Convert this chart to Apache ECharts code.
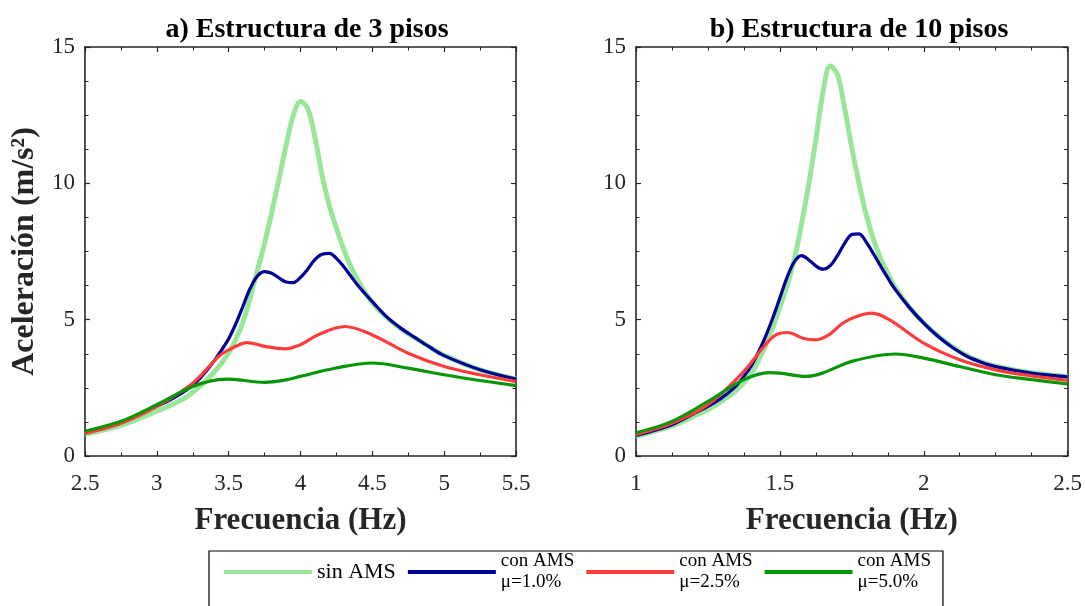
<!DOCTYPE html>
<html><head><meta charset="utf-8">
<script src="https://cdn.jsdelivr.net/npm/echarts@6/dist/echarts.min.js"></script>
<style>html,body{margin:0;padding:0;background:#fff}#c{width:1085px;height:606px}</style>
</head><body><div id="c"></div>
<script>
const FONT = '"Liberation Serif","Times New Roman",serif';

// ---- a) Estructura de 3 pisos ----
const sin3X = [2.5, 2.75, 3.0, 3.1, 3.2, 3.25, 3.3, 3.35, 3.4, 3.45, 3.5, 3.55, 3.6, 3.65, 3.7, 3.75, 3.8, 3.85, 3.9, 3.95, 4.0, 4.05, 4.1, 4.15, 4.2, 4.25, 4.3, 4.35, 4.4, 4.45, 4.5, 4.6, 4.7, 4.8, 4.9, 5.0, 5.25, 5.5];
const sin3Y = [0.80, 1.12, 1.64, 1.87, 2.14, 2.34, 2.55, 2.8, 3.08, 3.4, 3.78, 4.28, 4.92, 5.8, 6.8, 7.8, 8.95, 10.15, 11.4, 12.5, 13.0, 12.75, 11.7, 10.3, 9.2, 8.35, 7.6, 6.95, 6.45, 6.0, 5.62, 5.08, 4.66, 4.32, 3.99, 3.69, 3.16, 2.83];
const ams1_3X = [2.5, 2.75, 3.0, 3.1, 3.2, 3.25, 3.3, 3.35, 3.4, 3.45, 3.5, 3.55, 3.6, 3.65, 3.7, 3.75, 3.8, 3.85, 3.9, 3.95, 4.0, 4.05, 4.1, 4.15, 4.2, 4.25, 4.3, 4.35, 4.4, 4.45, 4.5, 4.6, 4.7, 4.8, 4.9, 5.0, 5.25, 5.5];
const ams1_3Y = [0.85, 1.21, 1.82, 2.08, 2.4, 2.6, 2.85, 3.15, 3.5, 3.88, 4.3, 4.85, 5.5, 6.15, 6.6, 6.76, 6.7, 6.53, 6.38, 6.36, 6.55, 6.85, 7.2, 7.4, 7.43, 7.25, 6.95, 6.6, 6.25, 5.95, 5.66, 5.1, 4.68, 4.33, 3.99, 3.68, 3.16, 2.82];
const ams25_3X = [2.5, 2.75, 3.0, 3.25, 3.43, 3.5, 3.63, 3.75, 3.89, 4.0, 4.12, 4.31, 4.5, 4.75, 5.0, 5.25, 5.5];
const ams25_3Y = [0.83, 1.2, 1.82, 2.67, 3.65, 3.89, 4.16, 4.02, 3.93, 4.08, 4.44, 4.75, 4.44, 3.77, 3.28, 2.98, 2.73];
const ams5_3X = [2.5, 2.75, 3.0, 3.25, 3.43, 3.5, 3.75, 3.89, 4.0, 4.24, 4.5, 4.75, 5.0, 5.25, 5.5];
const ams5_3Y = [0.91, 1.27, 1.88, 2.55, 2.80, 2.82, 2.70, 2.78, 2.92, 3.22, 3.41, 3.22, 2.98, 2.77, 2.58];

// ---- b) Estructura de 10 pisos ----
const sin10X = [1.0, 1.125, 1.2, 1.25, 1.3, 1.35, 1.4, 1.425, 1.45, 1.475, 1.5, 1.525, 1.55, 1.575, 1.6, 1.625, 1.65, 1.675, 1.7, 1.725, 1.75, 1.775, 1.8, 1.825, 1.85, 1.875, 1.9, 1.95, 2.0, 2.05, 2.1, 2.15, 2.2, 2.25, 2.375, 2.5];
const sin10Y = [0.72, 1.10, 1.45, 1.70, 2.02, 2.42, 3.02, 3.5, 4.05, 4.7, 5.45, 6.25, 7.2, 8.5, 9.95, 11.6, 13.35, 14.3, 14.0, 12.75, 11.3, 10.0, 8.85, 7.95, 7.25, 6.7, 6.2, 5.45, 4.88, 4.4, 4.0, 3.68, 3.45, 3.29, 3.05, 2.92];
const ams1_10X = [1.0, 1.125, 1.2, 1.25, 1.3, 1.35, 1.4, 1.425, 1.45, 1.475, 1.5, 1.525, 1.55, 1.575, 1.6, 1.625, 1.65, 1.675, 1.7, 1.725, 1.75, 1.775, 1.8, 1.825, 1.85, 1.875, 1.9, 1.95, 2.0, 2.05, 2.1, 2.15, 2.2, 2.25, 2.375, 2.5];
const ams1_10Y = [0.75, 1.15, 1.55, 1.82, 2.15, 2.6, 3.3, 3.8, 4.38, 5.05, 5.8, 6.55, 7.12, 7.35, 7.2, 6.97, 6.85, 6.98, 7.35, 7.8, 8.12, 8.15, 7.85, 7.42, 6.97, 6.53, 6.12, 5.45, 4.87, 4.38, 3.98, 3.66, 3.44, 3.28, 3.04, 2.90];
const ams25_10X = [1.0, 1.125, 1.25, 1.375, 1.44, 1.486, 1.527, 1.58, 1.625, 1.67, 1.718, 1.764, 1.82, 1.88, 2.0, 2.125, 2.25, 2.375, 2.5];
const ams25_10Y = [0.79, 1.2, 1.88, 3.10, 3.96, 4.44, 4.53, 4.32, 4.26, 4.44, 4.87, 5.11, 5.24, 5.0, 4.14, 3.53, 3.16, 2.94, 2.77];
const ams5_10X = [1.0, 1.125, 1.25, 1.375, 1.463, 1.5, 1.59, 1.648, 1.75, 1.90, 2.0, 2.125, 2.25, 2.375, 2.5];
const ams5_10Y = [0.85, 1.27, 2.00, 2.80, 3.06, 3.04, 2.92, 3.04, 3.47, 3.74, 3.59, 3.28, 2.98, 2.80, 2.64];

const titles = ['a) Estructura de 3 pisos', 'b) Estructura de 10 pisos'];
const names = ['sin AMS', 'con AMS μ=1.0%', 'con AMS μ=2.5%', 'con AMS μ=5.0%'];
const colors = ['#98E698', '#000099', '#FF3B3B', '#079607'];
const widths = [5, 3.2, 3.2, 3.2];
const xName = 'Frecuencia (Hz)';
const yName = 'Aceleración (m/s²)';

const zip = (xs, ys) => xs.map((x, i) => [x, ys[i]]);
const data3 = [zip(sin3X, sin3Y), zip(ams1_3X, ams1_3Y), zip(ams25_3X, ams25_3Y), zip(ams5_3X, ams5_3Y)];
const data10 = [zip(sin10X, sin10Y), zip(ams1_10X, ams1_10Y), zip(ams25_10X, ams25_10Y), zip(ams5_10X, ams5_10Y)];

const AX = '#262626';
function axis(o) {
  return Object.assign({
    type: 'value',
    axisLine: { show: true, onZero: false, lineStyle: { color: AX, width: 1.6 } },
    axisTick: { show: true, inside: true, length: 5, lineStyle: { color: AX, width: 1.2 } },
    minorTick: { show: true, length: 3.5, lineStyle: { color: AX, width: 1 } },
    splitLine: { show: false },
    axisLabel: { show: true, fontFamily: FONT, fontSize: 23, color: AX }
  }, o);
}
function noLabel(o) {
  const a = axis(o);
  a.axisLabel = { show: false };
  return a;
}
const xNameStyle = { fontFamily: FONT, fontSize: 31, fontWeight: 'bold', color: AX };

const xAxes = [
  axis({ gridIndex: 0, position: 'bottom', min: 2.5, max: 5.5, interval: 0.5,
    minorTick: { show: true, splitNumber: 2, length: 3.5, lineStyle: { color: AX, width: 1 } },
    axisLabel: { fontFamily: FONT, fontSize: 23, color: AX, margin: 16 },
    name: xName, nameLocation: 'middle', nameGap: 49, nameTextStyle: xNameStyle }),
  noLabel({ gridIndex: 0, position: 'top', min: 2.5, max: 5.5, interval: 0.5,
    minorTick: { show: true, splitNumber: 2, length: 3.5, lineStyle: { color: AX, width: 1 } } }),
  axis({ gridIndex: 1, position: 'bottom', min: 1, max: 2.5, interval: 0.5,
    minorTick: { show: true, splitNumber: 4, length: 3.5, lineStyle: { color: AX, width: 1 } },
    axisLabel: { fontFamily: FONT, fontSize: 23, color: AX, margin: 16 },
    name: xName, nameLocation: 'middle', nameGap: 49, nameTextStyle: xNameStyle }),
  noLabel({ gridIndex: 1, position: 'top', min: 1, max: 2.5, interval: 0.5,
    minorTick: { show: true, splitNumber: 4, length: 3.5, lineStyle: { color: AX, width: 1 } } })
];
const yMinor = { show: true, splitNumber: 4, length: 3.5, lineStyle: { color: AX, width: 1 } };
const yAxes = [
  axis({ gridIndex: 0, position: 'left', min: 0, max: 15, interval: 5, minorTick: yMinor,
    axisLabel: { fontFamily: FONT, fontSize: 23, color: AX, margin: 10 },
    name: yName, nameLocation: 'middle', nameGap: 44,
    nameTextStyle: { fontFamily: FONT, fontSize: 32, fontWeight: 'bold', color: AX } }),
  noLabel({ gridIndex: 0, position: 'right', min: 0, max: 15, interval: 5, minorTick: yMinor }),
  axis({ gridIndex: 1, position: 'left', min: 0, max: 15, interval: 5, minorTick: yMinor,
    axisLabel: { fontFamily: FONT, fontSize: 23, color: AX, margin: 10 } }),
  noLabel({ gridIndex: 1, position: 'right', min: 0, max: 15, interval: 5, minorTick: yMinor })
];

const series = [];
[data3, data10].forEach((set, g) => {
  set.forEach((d, i) => {
    series.push({
      type: 'line', name: names[i], data: d,
      xAxisIndex: g * 2, yAxisIndex: g * 2,
      smooth: 0.35, showSymbol: false, symbol: 'none',
      lineStyle: { color: colors[i], width: widths[i] },
      itemStyle: { color: colors[i] },
      z: 2 + i, animation: false
    });
  });
});

const chart = echarts.init(document.getElementById('c'), null, { renderer: 'canvas' });
chart.setOption({
  backgroundColor: '#fff',
  animation: false,
  title: [
    { text: titles[0], left: 302, top: 11, textAlign: 'center',
      textStyle: { fontFamily: FONT, fontSize: 28, fontWeight: 'bold', color: '#000' } },
    { text: titles[1], left: 854, top: 11, textAlign: 'center',
      textStyle: { fontFamily: FONT, fontSize: 28, fontWeight: 'bold', color: '#000' } }
  ],
  grid: [
    { left: 85, right: 569, top: 47, bottom: 150 },
    { left: 636, right: 17, top: 47, bottom: 150 }
  ],
  xAxis: xAxes,
  yAxis: yAxes,
  legend: {
    data: names.map(n => ({ name: n, icon: 'rect' })),
    left: 209, top: 551,
    orient: 'horizontal',
    itemWidth: 88, itemHeight: 4, itemGap: 12,
    padding: [1, 12, 40, 15],
    borderColor: '#000', borderWidth: 1.2,
    selectedMode: false,
    formatter: function (n) {
      if (n.indexOf(' μ') < 0) return '{a|' + n + '}';
      const p = n.split(' μ');
      return '{b|' + p[0] + '}\n{b|μ' + p[1] + '}';
    },
    textStyle: {
      fontFamily: FONT, color: '#000',
      rich: {
        a: { fontFamily: FONT, fontSize: 22, color: '#000' },
        b: { fontFamily: FONT, fontSize: 19, lineHeight: 21, color: '#000' }
      }
    }
  },
  series: series
});
</script></body></html>
